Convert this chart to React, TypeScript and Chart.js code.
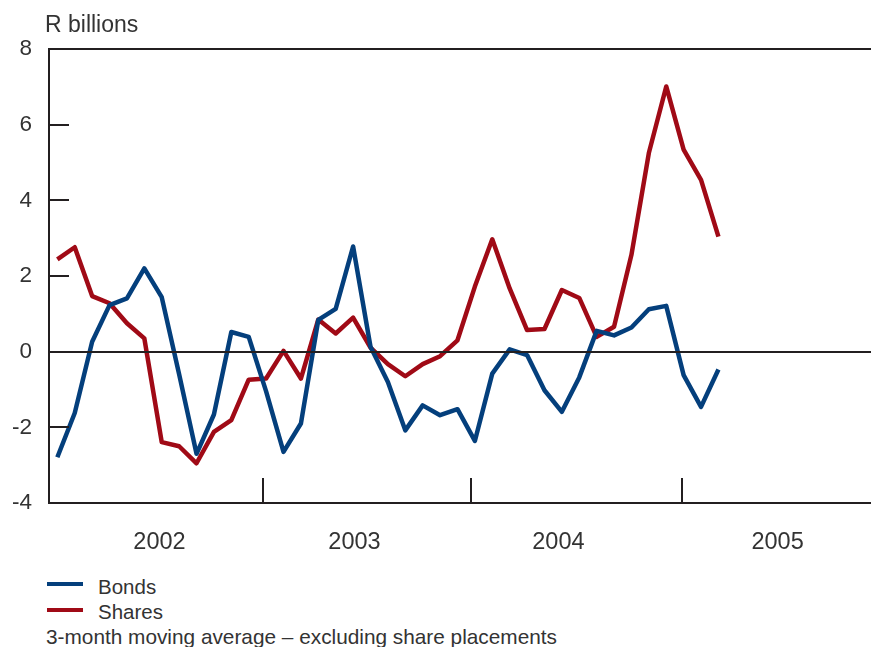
import React, { useEffect, useRef } from 'react';
import { Chart, registerables } from 'chart.js';

Chart.register(...registerables);

// Monthly values, Jan 2002 – Mar 2005 (R billions, 3-month moving average)
const bonds = [
  -2.79, -1.62, 0.26, 1.23, 1.41, 2.2, 1.44, -0.6, -2.7, -1.66, 0.52, 0.39,
  -1.05, -2.65, -1.9, 0.84, 1.13, 2.78, 0.13, -0.8, -2.08, -1.42, -1.68, -1.52,
  -2.36, -0.58, 0.06, -0.09, -1.02, -1.59, -0.68, 0.55, 0.43, 0.64, 1.12, 1.21,
  -0.62, -1.46, -0.47,
];
const shares = [
  2.44, 2.76, 1.47, 1.28, 0.75, 0.35, -2.39, -2.5, -2.95, -2.12, -1.81, -0.74,
  -0.71, 0.02, -0.71, 0.85, 0.48, 0.9, 0.11, -0.33, -0.65, -0.33, -0.12, 0.3,
  1.72, 2.97, 1.67, 0.57, 0.6, 1.63, 1.42, 0.39, 0.66, 2.56, 5.25, 7.01,
  5.34, 4.54, 3.04,
];

const yearLabels = ['2002', '2003', '2004', '2005'];
const yearLabelPos = [5.87, 17.08, 28.8, 41.4];
const yearTickPos = [11.8, 23.76, 35.89];
const yInwardTicks = [6, 4, 2, -2];

const FONT = "'Liberation Sans', Arial, Helvetica, sans-serif";
const AXIS = '#231f20';
const TEXT = '#333333';
const BLUE = '#043f7c';
const RED = '#a00a16';

const CANVAS_W = 871;
const CANVAS_H = 570;

export default function App() {
  const ref = useRef<HTMLCanvasElement>(null);

  useEffect(() => {
    if (!ref.current) return;
    const frame = {
      id: 'frame',
      afterDatasetsDraw(chart: any) {
        const { ctx, chartArea } = chart;
        const { left, right, top, bottom } = chartArea;
        const ys = chart.scales.y;
        const xs = chart.scales.x;
        ctx.save();
        ctx.strokeStyle = AXIS;
        ctx.lineWidth = 2;
        ctx.lineCap = 'butt';
        ctx.beginPath();
        ctx.moveTo(left - 1, top);
        ctx.lineTo(right, top);
        ctx.moveTo(left, top);
        ctx.lineTo(left, bottom + 1);
        ctx.moveTo(left - 1, bottom);
        ctx.lineTo(right, bottom);
        const y0 = Math.round(ys.getPixelForValue(0));
        ctx.moveTo(left, y0);
        ctx.lineTo(right, y0);
        yInwardTicks.forEach((v) => {
          const y = Math.round(ys.getPixelForValue(v));
          ctx.moveTo(left, y);
          ctx.lineTo(left + 20, y);
        });
        yearTickPos.forEach((v) => {
          const x = Math.round(xs.getPixelForValue(v));
          ctx.moveTo(x, bottom);
          ctx.lineTo(x, bottom - 25);
        });
        ctx.stroke();
        ctx.restore();
      },
    };

    const chart = new Chart(ref.current, {
      type: 'line',
      data: {
        datasets: [
          {
            label: 'Bonds',
            data: bonds.map((y, i) => ({ x: i, y })),
            borderColor: BLUE,
            backgroundColor: BLUE,
            borderWidth: 4.5,
            pointRadius: 0,
            tension: 0,
            borderJoinStyle: 'round',
          },
          {
            label: 'Shares',
            data: shares.map((y, i) => ({ x: i, y })),
            borderColor: RED,
            backgroundColor: RED,
            borderWidth: 4.5,
            pointRadius: 0,
            tension: 0,
            borderJoinStyle: 'round',
          },
        ],
      },
      options: {
        animation: false,
        responsive: false,
        devicePixelRatio: 1,
        layout: { padding: { top: 49, left: 0, right: 0, bottom: 0 } },
        plugins: { legend: { display: false }, tooltip: { enabled: false } },
        scales: {
          x: {
            type: 'linear',
            min: -0.48,
            max: 46.77,
            grid: { display: false, drawTicks: false },
            border: { display: false },
            afterBuildTicks: (s: any) => {
              s.ticks = yearLabelPos.map((v) => ({ value: v }));
            },
            ticks: {
              callback: (_v: any, i: number) => yearLabels[i],
              font: { family: FONT, size: 23.5 },
              color: TEXT,
              padding: 25,
              maxRotation: 0,
              autoSkip: false,
            },
            afterFit: (s: any) => {
              s.height = CANVAS_H - 503;
            },
          },
          y: {
            min: -4,
            max: 8,
            grid: { display: false, drawTicks: false },
            border: { display: false },
            ticks: {
              stepSize: 2,
              font: { family: FONT, size: 22.5 },
              color: TEXT,
              padding: 17,
            },
            afterFit: (s: any) => {
              s.width = 49;
            },
          },
        },
      },
      plugins: [frame],
    } as any);

    return () => chart.destroy();
  }, []);

  const textBase: React.CSSProperties = {
    position: 'absolute',
    fontFamily: FONT,
    color: TEXT,
    lineHeight: 1,
    whiteSpace: 'nowrap',
  };

  return (
    <div style={{ position: 'absolute', left: 0, top: 0, width: 871, height: 647, background: '#fff', overflow: 'hidden' }}>
      <canvas
        ref={ref}
        width={CANVAS_W}
        height={CANVAS_H}
        style={{ position: 'absolute', left: 0, top: 0, width: CANVAS_W, height: CANVAS_H }}
      />
      <div style={{ ...textBase, left: 45, top: 13, fontSize: 23 }}>R billions</div>
      <div style={{ position: 'absolute', left: 47, top: 582, width: 36, height: 4, background: BLUE }} />
      <div style={{ ...textBase, left: 98, top: 577, fontSize: 20.5 }}>Bonds</div>
      <div style={{ position: 'absolute', left: 47, top: 608, width: 36, height: 4, background: RED }} />
      <div style={{ ...textBase, left: 98, top: 602, fontSize: 20.5 }}>Shares</div>
      <div style={{ ...textBase, left: 46, top: 627, fontSize: 20.8 }}>
        3-month moving average – excluding share placements
      </div>
    </div>
  );
}
